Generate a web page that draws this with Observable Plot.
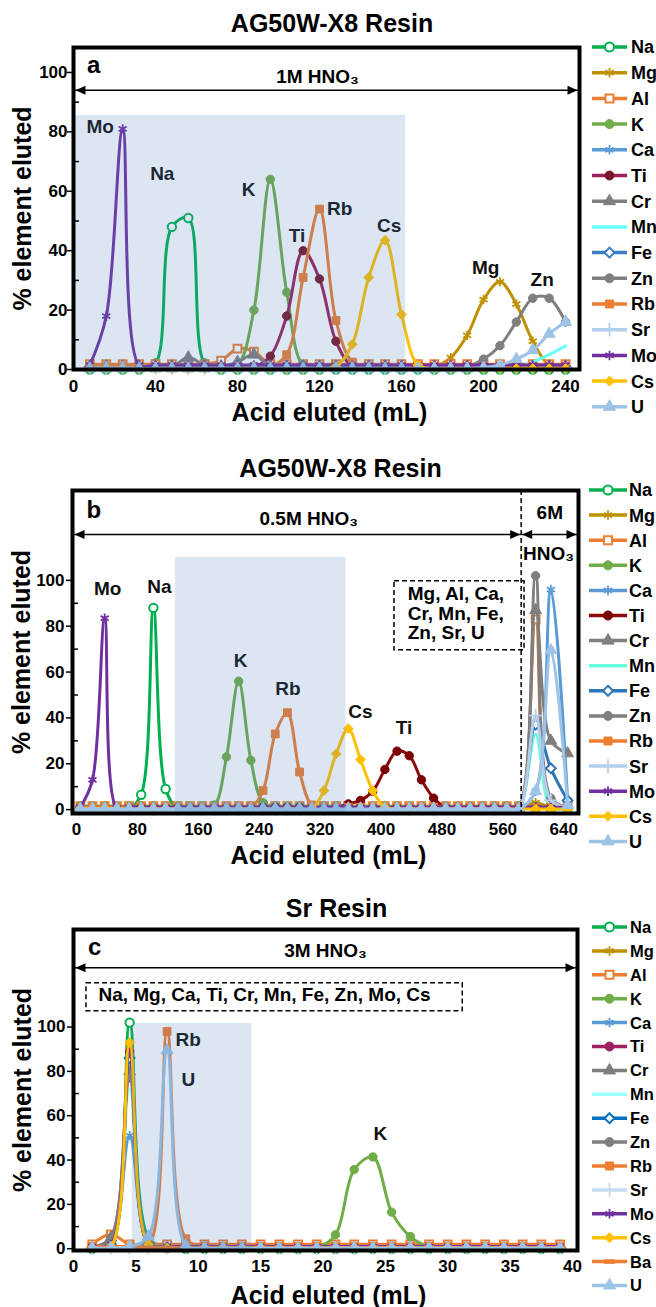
<!DOCTYPE html>
<html><head><meta charset="utf-8">
<script src="https://cdn.jsdelivr.net/npm/d3@7"></script>
<script src="https://cdn.jsdelivr.net/npm/@observablehq/plot@0.6"></script>
<style>
body{margin:0;background:#fff;}
#root{position:relative;width:656px;height:1307px;overflow:hidden;background:#fff;}
#root svg{position:absolute;left:0;}
</style></head><body><div id="root"></div>
<script>
// ---------------- DATA ----------------
const elementsAB = ["Na","Mg","Al","K","Ca","Ti","Cr","Mn","Fe","Zn","Rb","Sr","Mo","Cs","U"];
const elementsC  = ["Na","Mg","Al","K","Ca","Ti","Cr","Mn","Fe","Zn","Rb","Sr","Mo","Cs","Ba","U"];
const yTickValues = [0,20,40,60,80,100];
const yMinorTicks = [10,30,50,70,90];

// Panel a: AG50W-X8, 1M HNO3
const xA = [8,16,24,32,40,48,56,64,72,80,88,96,104,112,120,128,136,144,152,160,168,176,184,192,200,208,216,224,232,240];
const xTicksA = [0,40,80,120,160,200,240];
const aNa = [0,0,0,0,2,48,51,2,0,0, 0,0,0,0,0,0,0,0,0,0, 0,0,0,0,0,0,0,0,0,0];
const aMg = [1,1,1,1,1,1,1,1,1,1, 1,1,1,1,1,1,1,1,1,1, 1,1,4,11.5,23.5,29.5,22,9.5,1.5,1];
const aAl = [1.8,1.8,1.8,1.8,1.8,1.8,1.8,1.8,3,7, 6,1.8,1.8,1.8,1.8,1.8,1.8,1.8,1.8,1.8, 1.8,1.8,1.8,1.8,1.8,1.8,1.8,1.8,1.8,1.8];
const aK  = [1,1,1,1,1,1,1,1,1,1.5, 20,64,26,1.5,1,1,1,1,1,1, 1,1,1,1,1,1,1,1,1,1];
const aCa = [1,1,1,1,1,1,1,1,1,1, 1,1,1,1,1,1,1,1,1,1, 1,1,1,1,1,1,1,1,1,1];
const aTi = [1,1,1,1,1,1,1,1,1,1, 1,4.5,18,40,30.5,9.5,1,1,1,1, 1,1,1,1,1,1,1,1,1,1];
const aCr = [1,1,1,1,1,1,4,1.5,1,2.5, 5,1,1,1,1,1,1,1,1,1, 1,1,1,1,1,1,1,1,1,1];
const aMn = [0.5,0.5,0.5,0.5,0.5,0.5,0.5,0.5,0.5,0.5, 0.5,0.5,0.5,0.5,0.5,0.5,0.5,0.5,0.5,0.5, 0.5,0.5,0.5,0.5,0.5,0.5,0.5,2.5,5,8];
const aFe = [1,1,1,1,1,1,1,1,1,1, 1,1,1,1,1,1,1,1,1,1, 1,1,1,1,1,1,1,1,1,1];
const aZn = [1,1,1,1,1,1,1,1,1,1, 1,1,1,1,1,1,1,1,1,1, 1,1,1,1,3.5,8,16,24,24,16];
const aRb = [1,1,1,1,1,1,1,1,1,1, 1,1,5,31,54,16.5,2.5,1,1,1, 1,1,1,1,1,1,1,1,1,1];
const aSr = [0.5,0.5,0.5,0.5,0.5,0.5,0.5,0.5,0.5,0.5, 0.5,0.5,0.5,0.5,0.5,0.5,0.5,0.5,0.5,0.5, 0.5,0.5,0.5,0.5,0.5,0.5,0.5,0.5,0.5,0.5];
const aMo = [1.5,18,81,1.5,1.5,1.5,1.5,1.5,1.5,1.5, 1.5,1.5,1.5,1.5,1.5,1.5,1.5,1.5,1.5,1.5, 1.5,1.5,1.5,1.5,1.5,1.5,1.5,1.5,1.5,1.5];
const aCs = [0.3,0.3,0.3,0.3,0.3,0.3,0.3,0.3,0.3,0.3, 0.3,0.3,0.3,0.3,0.3,1,8.5,31,43.5,18.5, 1.5,0.3,0.3,0.3,0.3,0.3,0.3,0.3,0.3,0.3];
const aU  = [0.3,0.3,0.3,0.3,0.3,0.3,0.3,0.3,0.3,0.3, 0.3,0.3,0.3,0.3,0.3,0.3,0.3,0.3,0.3,0.3, 0.3,0.3,0.3,0.3,0.6,1.5,3.5,6.5,12,16];
const peakLabelsA = [
  {t:"Mo",x:13,y:81.5},{t:"Na",x:43.3,y:65.9},{t:"K",x:85.4,y:60.3},{t:"Ti",x:109,y:45.1},
  {t:"Rb",x:129.8,y:54.2},{t:"Cs",x:154,y:48.5},{t:"Mg",x:201,y:34.3},{t:"Zn",x:228.6,y:30}
];

// Panel b: AG50W-X8, 0.5M then 6M HNO3
const xB = [5,21,37,53,69,85,101,117,133,149,165,181,197,213,229,245,261,277,293,309,325,341,357,373,389,405,421,437,453,469,485,501,517,533,549,565,581,603,623,645];
const xTicksB = [0,80,160,240,320,400,480,560,640];
const bNa = [0.5,0.5,0.5,0.5,0.5,6.5,88,9,0.5,0.5, 0.5,0.5,0.5,0.5,0.5,0.5,0.5,0.5,0.5,0.5, 0.5,0.5,0.5,0.5,0.5,0.5,0.5,0.5,0.5,0.5, 0.5,0.5,0.5,0.5,0.5,0.5,0.5,0.5,0.5,0.5];
const bMg = [0.5,0.5,0.5,0.5,0.5,0.5,0.5,0.5,0.5,0.5, 0.5,0.5,0.5,0.5,0.5,0.5,0.5,0.5,0.5,0.5, 0.5,0.5,0.5,0.5,0.5,0.5,0.5,0.5,0.5,0.5, 0.5,0.5,0.5,0.5,0.5,0.5,0.5,3,1,0.5];
const bAl = [1.5,1.5,1.5,1.5,1.5,1.5,1.5,1.5,1.5,1.5, 1.5,1.5,1.5,1.5,1.5,1.5,1.5,1.5,1.5,1.5, 1.5,1.5,1.5,1.5,1.5,1.5,1.5,1.5,1.5,1.5, 1.5,1.5,1.5,1.5,1.5,1.5,1.5,83,3,2];
const bK  = [1.5,1.5,1.5,1.5,1.5,1.5,1.5,1.5,1.5,1.5, 1.5,2,23,56,21.5,3,1.5,1.5,1.5,1.5, 1.5,1.5,1.5,1.5,1.5,1.5,1.5,1.5,1.5,1.5, 1.5,1.5,1.5,1.5,1.5,1.5,1.5,1.5,1.5,1.5];
const bCa = [0.5,0.5,0.5,0.5,0.5,0.5,0.5,0.5,0.5,0.5, 0.5,0.5,0.5,0.5,0.5,0.5,0.5,0.5,0.5,0.5, 0.5,0.5,0.5,0.5,0.5,0.5,0.5,0.5,0.5,0.5, 0.5,0.5,0.5,0.5,0.5,0.5,0.5,8,96,4];
const bTi = [1,1,1,1,1,1,1,1,1,1, 1,1,1,1,1,1,1,1,1,1, 1,1,2.5,4,8,17.5,25.5,23.5,13,5, 1,1,1,1,1,1,1,1,1,1];
const bCr = [0.5,0.5,0.5,0.5,0.5,0.5,0.5,0.5,0.5,0.5, 0.5,0.5,0.5,0.5,0.5,0.5,0.5,0.5,0.5,0.5, 0.5,0.5,0.5,0.5,0.5,0.5,0.5,0.5,0.5,0.5, 0.5,0.5,0.5,0.5,0.5,0.5,0.5,87,30,24.5];
const bMn = [0.3,0.3,0.3,0.3,0.3,0.3,0.3,0.3,0.3,0.3, 0.3,0.3,0.3,0.3,0.3,0.3,0.3,0.3,0.3,0.3, 0.3,0.3,0.3,0.3,0.3,0.3,0.3,0.3,0.3,0.3, 0.3,0.3,0.3,0.3,0.3,0.3,0.3,33,1,0.5];
const bFe = [0.5,0.5,0.5,0.5,0.5,0.5,0.5,0.5,0.5,0.5, 0.5,0.5,0.5,0.5,0.5,0.5,0.5,0.5,0.5,0.5, 0.5,0.5,0.5,0.5,0.5,0.5,0.5,0.5,0.5,0.5, 0.5,0.5,0.5,0.5,0.5,0.5,0.5,37,18,4];
const bZn = [0.5,0.5,0.5,0.5,0.5,0.5,0.5,0.5,0.5,0.5, 0.5,0.5,0.5,0.5,0.5,0.5,0.5,0.5,0.5,0.5, 0.5,0.5,0.5,0.5,0.5,0.5,0.5,0.5,0.5,0.5, 0.5,0.5,0.5,0.5,0.5,0.5,0.5,102,5,1];
const bRb = [1,1,1,1,1,1,1,1,1,1, 1,1,1,1,1,8.3,33,42.3,16.4,2, 1,1,1,1,1,1,1,1,1,1, 1,1,1,1,1,1,1,1,1,1];
const bSr = [0.3,0.3,0.3,0.3,0.3,0.3,0.3,0.3,0.3,0.3, 0.3,0.3,0.3,0.3,0.3,0.3,0.3,0.3,0.3,0.3, 0.3,0.3,0.3,0.3,0.3,0.3,0.3,0.3,0.3,0.3, 0.3,0.3,0.3,0.3,0.3,0.3,0.3,41,4,1];
const bMo = [1,13,83.5,0.5,1,1,1,1,1,1, 1,1,1,1,1,1,1,1,1,1, 1,1,1,1,1,1,1,1,1,1, 1,1,1,1,1,1,1,1,1,1];
const bCs = [0.3,0.3,0.3,0.3,0.3,0.3,0.3,0.3,0.3,0.3, 0.3,0.3,0.3,0.3,0.3,0.3,0.3,0.3,0.3,0.3, 8.3,24.3,35.3,21.8,8.3,1,0.3,0.3,0.3,0.3, 0.3,0.3,0.3,0.3,0.3,0.3,0.3,0.3,0.3,0.3];
const bU  = [0.3,0.3,0.3,0.3,0.3,0.3,0.3,0.3,0.3,0.3, 0.3,0.3,0.3,0.3,0.3,0.3,0.3,0.3,0.3,0.3, 0.3,0.3,0.3,0.3,0.3,0.3,0.3,0.3,0.3,0.3, 0.3,0.3,0.3,0.3,0.3,0.3,0.3,8,69.5,2];
const peakLabelsB = [
  {t:"Mo",x:41,y:96.4},{t:"Na",x:109,y:97},{t:"K",x:215.4,y:65},
  {t:"Rb",x:277.8,y:52.8},{t:"Cs",x:373,y:42.6},{t:"Ti",x:430,y:35.8}
];
const boxLinesB = ["Mg, Al, Ca,","Cr, Mn, Fe,","Zn, Sr, U"];

// Panel c: Sr Resin, 3M HNO3
const xC = [1.5,3,4.5,6,7.5,9,10.5,12,13.5,15,16.5,18,19.5,21,22.5,24,25.5,27,28.5,30,31.5,33,34.5,36,37.5,39];
const xTicksC = [0,5,10,15,20,25,30,35,40];
const cNa = [0,1,102,5,0.5,0,0,0,0,0, 0,0,0,0,0,0,0,0,0,0, 0,0,0,0,0,0];
const cMg = [0.5,2,91,2,0.5,0.5,0.5,0.5,0.5,0.5, 0.5,0.5,0.5,0.5,0.5,0.5,0.5,0.5,0.5,0.5, 0.5,0.5,0.5,0.5,0.5,0.5];
const cAl = [2,6.5,2,2,2,2,2,2,2,2, 2,2,2,2,2,2,2,2,2,2, 2,2,2,2,2,2];
const cK  = [0.5,0.5,0.5,0.5,0.5,0.5,0.5,0.5,0.5,0.5, 0.5,0.5,0.5,6.3,35.7,41.4,16.5,5.5,1,0.5, 0.5,0.5,0.5,0.5,0.5,0.5];
const cCa = [0.5,2,51,2,0.5,0.5,0.5,0.5,0.5,0.5, 0.5,0.5,0.5,0.5,0.5,0.5,0.5,0.5,0.5,0.5, 0.5,0.5,0.5,0.5,0.5,0.5];
const cTi = [0.5,3,89,2,0.5,0.5,0.5,0.5,0.5,0.5, 0.5,0.5,0.5,0.5,0.5,0.5,0.5,0.5,0.5,0.5, 0.5,0.5,0.5,0.5,0.5,0.5];
const cCr = [0.5,5,80,3,0.5,0.5,0.5,0.5,0.5,0.5, 0.5,0.5,0.5,0.5,0.5,0.5,0.5,0.5,0.5,0.5, 0.5,0.5,0.5,0.5,0.5,0.5];
const cMn = [0.3,2,72,2,0.3,0.3,0.3,0.3,0.3,0.3, 0.3,0.3,0.3,0.3,0.3,0.3,0.3,0.3,0.3,0.3, 0.3,0.3,0.3,0.3,0.3,0.3];
const cFe = [0.5,2,86,2,0.5,0.5,0.5,0.5,0.5,0.5, 0.5,0.5,0.5,0.5,0.5,0.5,0.5,0.5,0.5,0.5, 0.5,0.5,0.5,0.5,0.5,0.5];
const cZn = [0.5,5,77,2,0.5,0.5,0.5,0.5,0.5,0.5, 0.5,0.5,0.5,0.5,0.5,0.5,0.5,0.5,0.5,0.5, 0.5,0.5,0.5,0.5,0.5,0.5];
const cRb = [1,1,1,1,98,4.5,1,1,1,1, 1,1,1,1,1,1,1,1,1,1, 1,1,1,1,1,1];
const cSr = [0.3,0.3,0.3,0.3,0.3,0.3,0.3,0.3,0.3,0.3, 0.3,0.3,0.3,0.3,0.3,0.3,0.3,0.3,0.3,0.3, 0.3,0.3,0.3,0.3,0.3,0.3];
const cMo = [1,2,88,2,1,1,1,1,1,1, 1,1,1,1,1,1,1,1,1,1, 1,1,1,1,1,1];
const cCs = [0.3,1,93,2,0.3,0.3,0.3,0.3,0.3,0.3, 0.3,0.3,0.3,0.3,0.3,0.3,0.3,0.3,0.3,0.3, 0.3,0.3,0.3,0.3,0.3,0.3];
const cBa = [0.5,0.5,0.5,0.5,0.5,0.5,0.5,0.5,0.5,0.5, 0.5,0.5,0.5,0.5,0.5,0.5,0.5,0.5,0.5,0.5, 0.5,0.5,0.5,0.5,0.5,0.5];
const cU  = [0.3,0.3,1,5.5,89.5,1.5,0.3,0.3,0.3,0.3, 0.3,0.3,0.3,0.3,0.3,0.3,0.3,0.3,0.3,0.3, 0.3,0.3,0.3,0.3,0.3,0.3];
const peakLabelsC = [{t:"Rb",x:9.2,y:94},{t:"U",x:9.2,y:76},{t:"K",x:24.6,y:51.9}];
const boxTextC = "Na, Mg, Ca, Ti, Cr, Mn, Fe, Zn, Mo, Cs";

// ---------------- STYLE ----------------
const FONT = '"Liberation Sans", Arial, Helvetica, sans-serif';
const symbols = {Na:"circle",Mg:"asterisk",Al:"square",K:"circle",Ca:"asterisk",Ti:"circle",Cr:"triangle",
  Mn:null,Fe:"diamond2",Zn:"circle",Rb:"square",Sr:"plus",Mo:"asterisk",Cs:"diamond2",Ba:"dash",U:"triangle"};
const openEls = new Set(["Na","Al","Fe"]);
const strokeSyms = new Set(["asterisk","plus","times"]);
const dashSymbol = {draw(ctx, size){ const w = Math.sqrt(size)*1.3; ctx.rect(-w/2,-1.7,w,3.4); }};
const headR = {draw(ctx){ ctx.moveTo(0,0); ctx.lineTo(-10,-4.5); ctx.lineTo(-10,4.5); ctx.closePath(); }};
const headL = {draw(ctx){ ctx.moveTo(0,0); ctx.lineTo(10,-4.5); ctx.lineTo(10,4.5); ctx.closePath(); }};

const baseColors = {Na:"#00B050",Mg:"#BF9000",Al:"#ED7D31",K:"#70AD47",Ca:"#5B9BD5",Ti:"#9A1F5A",Cr:"#7F7F7F",
  Mn:"#66FFFF",Fe:"#3A7DC4",Zn:"#7F7F7F",Rb:"#ED7D31",Sr:"#B4CFEC",Mo:"#7030A0",Cs:"#FFC000",Ba:"#ED7D31",U:"#9DC3E6"};
const colorsA = {...baseColors};
const markerA = {Ti:"#7B1426"};
const colorsB = {...baseColors, Ti:"#8B0A0A", Mn:"#66FFDD", Fe:"#2E75B6"};
const markerB = {Ti:"#7B0000"};
const colorsC = {...baseColors, Ti:"#A0205F", Mn:"#99FFFF", Fe:"#0070C0", Sr:"#C5DCF0"};
const markerC = {};

const root = document.getElementById("root");
const bold = {fontWeight:"bold", textAnchor:"middle", lineAnchor:"middle"};

function panel(cfg){
  const W = 600;
  const kx = (W - cfg.ml - cfg.mr) / (cfg.xDomain[1]-cfg.xDomain[0]);
  const marks = [];
  for (const el of cfg.elements){
    const vals = cfg.values[el];
    const rows = cfg.xs.map((x,i)=>({x, y: vals[i]}));
    const col = cfg.colors[el];
    marks.push(Plot.line(rows,{x:"x",y:"y",stroke:col,strokeWidth:3,curve:"catmull-rom"}));
    const s = symbols[el];
    if (s){
      const mcol = cfg.markers[el] || col;
      const opts = {x:"x",y:"y",symbol: s==="dash"?dashSymbol:s, r: s==="circle"?4.2:4.4};
      if (strokeSyms.has(s)) Object.assign(opts,{fill:"none",stroke:mcol,strokeWidth:1.8});
      else if (openEls.has(el)) Object.assign(opts,{fill:"white",stroke:mcol,strokeWidth:2});
      else Object.assign(opts,{fill:mcol,stroke:mcol,strokeWidth:1});
      marks.push(Plot.dot(rows,opts));
    }
  }
  marks.push(Plot.text(cfg.peakLabels,{x:"x",y:"y",text:"t",fontSize:19,...bold,fill:"#111"}));
  // shaded overlay
  marks.push(Plot.rect([cfg.shade],{x1:"x1",x2:"x2",y1:"y1",y2:"y2",fill:"#4F81BD",fillOpacity:0.2}));
  for (const m of cfg.extras) marks.push(m);
  // minor ticks inward
  marks.push(Plot.ruleY(yMinorTicks,{y:d=>d,x1:cfg.xDomain[0],x2:cfg.xDomain[0]+6/kx,strokeWidth:1.5}));
  marks.push(Plot.axisY(yTickValues,{tickSize:6,tickPadding:cfg.yPad,fontSize:17,fontWeight:"bold",label:null,strokeWidth:1.5}));
  marks.push(Plot.axisX(cfg.xTicks,{tickSize:0,tickPadding:cfg.xPad,fontSize:17,fontWeight:"bold",label:null}));
  marks.push(Plot.frame({stroke:"black",strokeWidth:4}));
  marks.push(Plot.text([cfg.title],{text:d=>d,frameAnchor:"top",dy:cfg.titleDy,dx:cfg.titleDx,fontSize:25,...bold}));
  marks.push(Plot.text(["% element eluted"],{text:d=>d,frameAnchor:"left",dx:-51,rotate:-90,fontSize:25,...bold}));
  marks.push(Plot.text(["Acid eluted (mL)"],{text:d=>d,frameAnchor:"bottom",dy:cfg.xLabelDy,dx:3,fontSize:25,...bold}));
  const svg = Plot.plot({
    width: W, height: cfg.height,
    marginTop: cfg.mt, marginBottom: cfg.mb, marginLeft: cfg.ml, marginRight: cfg.mr,
    x:{domain:cfg.xDomain,label:null},
    y:{domain:cfg.yDomain,label:null},
    style:{fontFamily:FONT,fontSize:"17px",fontWeight:"bold",color:"black",background:"transparent",overflow:"visible"},
    marks
  });
  svg.style.top = cfg.top + "px";
  root.appendChild(svg);
}

function arrowMarks(y, x1, x2, dl, dr){
  return [
    Plot.ruleY([y],{y:d=>d,x1:x1,x2:x2,strokeWidth:1.5}),
    Plot.dot([{x:x1,y}],{x:"x",y:"y",symbol:headL,r:5,fill:"black",dx:dl}),
    Plot.dot([{x:x2,y}],{x:"x",y:"y",symbol:headR,r:5,fill:"black",dx:dr})
  ];
}

// Panel a
panel({
  top:0, height:440, mt:47, mb:71, ml:73, mr:21,
  xDomain:[0,246.8], yDomain:[0,108.4], xTicks:xTicksA, xs:xA, xPad:10, yPad:0,
  elements: elementsAB, colors: colorsA, markers: markerA,
  values:{Na:aNa,Mg:aMg,Al:aAl,K:aK,Ca:aCa,Ti:aTi,Cr:aCr,Mn:aMn,Fe:aFe,Zn:aZn,Rb:aRb,Sr:aSr,Mo:aMo,Cs:aCs,U:aU},
  peakLabels: peakLabelsA,
  shade:{x1:0,x2:162,y1:0,y2:85.5},
  title:"AG50W-X8 Resin", titleDy:-23.7, titleDx:5.5, xLabelDy:43,
  extras:[
    Plot.text([{t:"a",x:9.8,y:102.4}],{x:"x",y:"y",text:"t",fontSize:24,...bold}),
    Plot.text([{t:"1M HNO₃",x:119,y:98.6}],{x:"x",y:"y",text:"t",fontSize:19,...bold}),
    ...arrowMarks(94,0,246.8,2,-2)
  ]
});

// Panel b
panel({
  top:440, height:440, mt:50, mb:67, ml:72, mr:22,
  xDomain:[-5.25,659.3], yDomain:[-1.7,139.2], xTicks:xTicksB, xs:xB, xPad:9, yPad:2,
  elements: elementsAB, colors: colorsB, markers: markerB,
  values:{Na:bNa,Mg:bMg,Al:bAl,K:bK,Ca:bCa,Ti:bTi,Cr:bCr,Mn:bMn,Fe:bFe,Zn:bZn,Rb:bRb,Sr:bSr,Mo:bMo,Cs:bCs,U:bU},
  peakLabels: peakLabelsB,
  shade:{x1:130,x2:354,y1:-1.7,y2:110},
  title:"AG50W-X8 Resin", titleDy:-21.7, titleDx:15, xLabelDy:42,
  extras:[
    Plot.ruleX([584],{x:d=>d,strokeDasharray:"5,3",strokeWidth:1.5}),
    Plot.text([{t:"b",x:22.7,y:130.5}],{x:"x",y:"y",text:"t",fontSize:24,...bold}),
    Plot.text([{t:"0.5M HNO₃",x:305,y:126.6}],{x:"x",y:"y",text:"t",fontSize:19,...bold}),
    ...arrowMarks(120,-5.25,584,2,-1),
    ...arrowMarks(120,584,659.3,1,-2),
    Plot.text([{t:"6M",x:621.6,y:129.3}],{x:"x",y:"y",text:"t",fontSize:19,...bold}),
    Plot.text([{t:"HNO₃",x:620,y:111.6}],{x:"x",y:"y",text:"t",fontSize:19,...bold}),
    Plot.rect([{x1:417.6,x2:588.4,y1:69.5,y2:99.6}],{x1:"x1",x2:"x2",y1:"y1",y2:"y2",fill:"none",stroke:"black",strokeWidth:1.5,strokeDasharray:"5,3"}),
    Plot.text(boxLinesB.map((t,i)=>({t,x:435,y:[94.2,85.5,77][i]})),{x:"x",y:"y",text:"t",fontSize:19,...bold,textAnchor:"start"})
  ]
});

// Panel c
panel({
  top:880, height:427, mt:49, mb:57, ml:73, mr:23,
  xDomain:[0,40.4], yDomain:[-0.8,144], xTicks:xTicksC, xs:xC, xPad:9, yPad:2,
  elements: elementsC, colors: colorsC, markers: markerC,
  values:{Na:cNa,Mg:cMg,Al:cAl,K:cK,Ca:cCa,Ti:cTi,Cr:cCr,Mn:cMn,Fe:cFe,Zn:cZn,Rb:cRb,Sr:cSr,Mo:cMo,Cs:cCs,Ba:cBa,U:cU},
  peakLabels: peakLabelsC,
  shade:{x1:4.7,x2:14.3,y1:-0.8,y2:101.6},
  title:"Sr Resin", titleDy:-20.7, titleDx:11, xLabelDy:45,
  extras:[
    Plot.text([{t:"c",x:1.7,y:136}],{x:"x",y:"y",text:"t",fontSize:24,...bold}),
    Plot.text([{t:"3M HNO₃",x:20.2,y:134.2}],{x:"x",y:"y",text:"t",fontSize:19,...bold}),
    ...arrowMarks(126.8,0,40.4,2,-2),
    Plot.rect([{x1:1.04,x2:31.2,y1:107.1,y2:119.7}],{x1:"x1",x2:"x2",y1:"y1",y2:"y2",fill:"none",stroke:"black",strokeWidth:1.5,strokeDasharray:"5,3"}),
    Plot.text([{t:boxTextC,x:2.0,y:114.3}],{x:"x",y:"y",text:"t",fontSize:19,...bold,textAnchor:"start"})
  ]
});

// ---------------- LEGENDS ----------------
const d3sym = {circle:d3.symbolCircle,square:d3.symbolSquare,triangle:d3.symbolTriangle,diamond2:d3.symbolDiamond2,
  asterisk:d3.symbolAsterisk,plus:d3.symbolPlus,dash:dashSymbol};
const lsvg = d3.select(root).append("svg").attr("width",656).attr("height",1307).style("top","0px")
  .style("pointer-events","none");
function legend(cfg){
  cfg.elements.forEach((el,i)=>{
    const y = cfg.y0 + i*cfg.dy;
    const col = cfg.colors[el];
    const mcol = cfg.markers[el] || col;
    lsvg.append("line").attr("x1",cfg.x0).attr("x2",cfg.x1).attr("y1",y).attr("y2",y)
      .attr("stroke",col).attr("stroke-width",3.5);
    const s = symbols[el];
    if (s){
      const p = lsvg.append("path").attr("transform",`translate(${(cfg.x0+cfg.x1)/2},${y})`)
        .attr("d",d3.symbol(d3sym[s], Math.PI*4.5*4.5)());
      if (strokeSyms.has(s)) p.attr("fill","none").attr("stroke",mcol).attr("stroke-width",1.8);
      else if (openEls.has(el)) p.attr("fill","white").attr("stroke",mcol).attr("stroke-width",2);
      else p.attr("fill",mcol).attr("stroke",mcol);
    }
    lsvg.append("text").attr("x",cfg.tx).attr("y",y).attr("dy","0.36em").text(el)
      .attr("font-family",FONT).attr("font-weight","bold").attr("font-size",cfg.fs).attr("fill","black");
  });
}
legend({elements:elementsAB,colors:colorsA,markers:markerA,x0:592,x1:627,tx:631,y0:47,dy:25.7,fs:18});
legend({elements:elementsAB,colors:colorsB,markers:markerB,x0:589,x1:627,tx:629,y0:490,dy:25.1,fs:18});
legend({elements:elementsC,colors:colorsC,markers:markerC,x0:592,x1:627,tx:630,y0:927,dy:23.9,fs:16.5});
</script></body></html>
